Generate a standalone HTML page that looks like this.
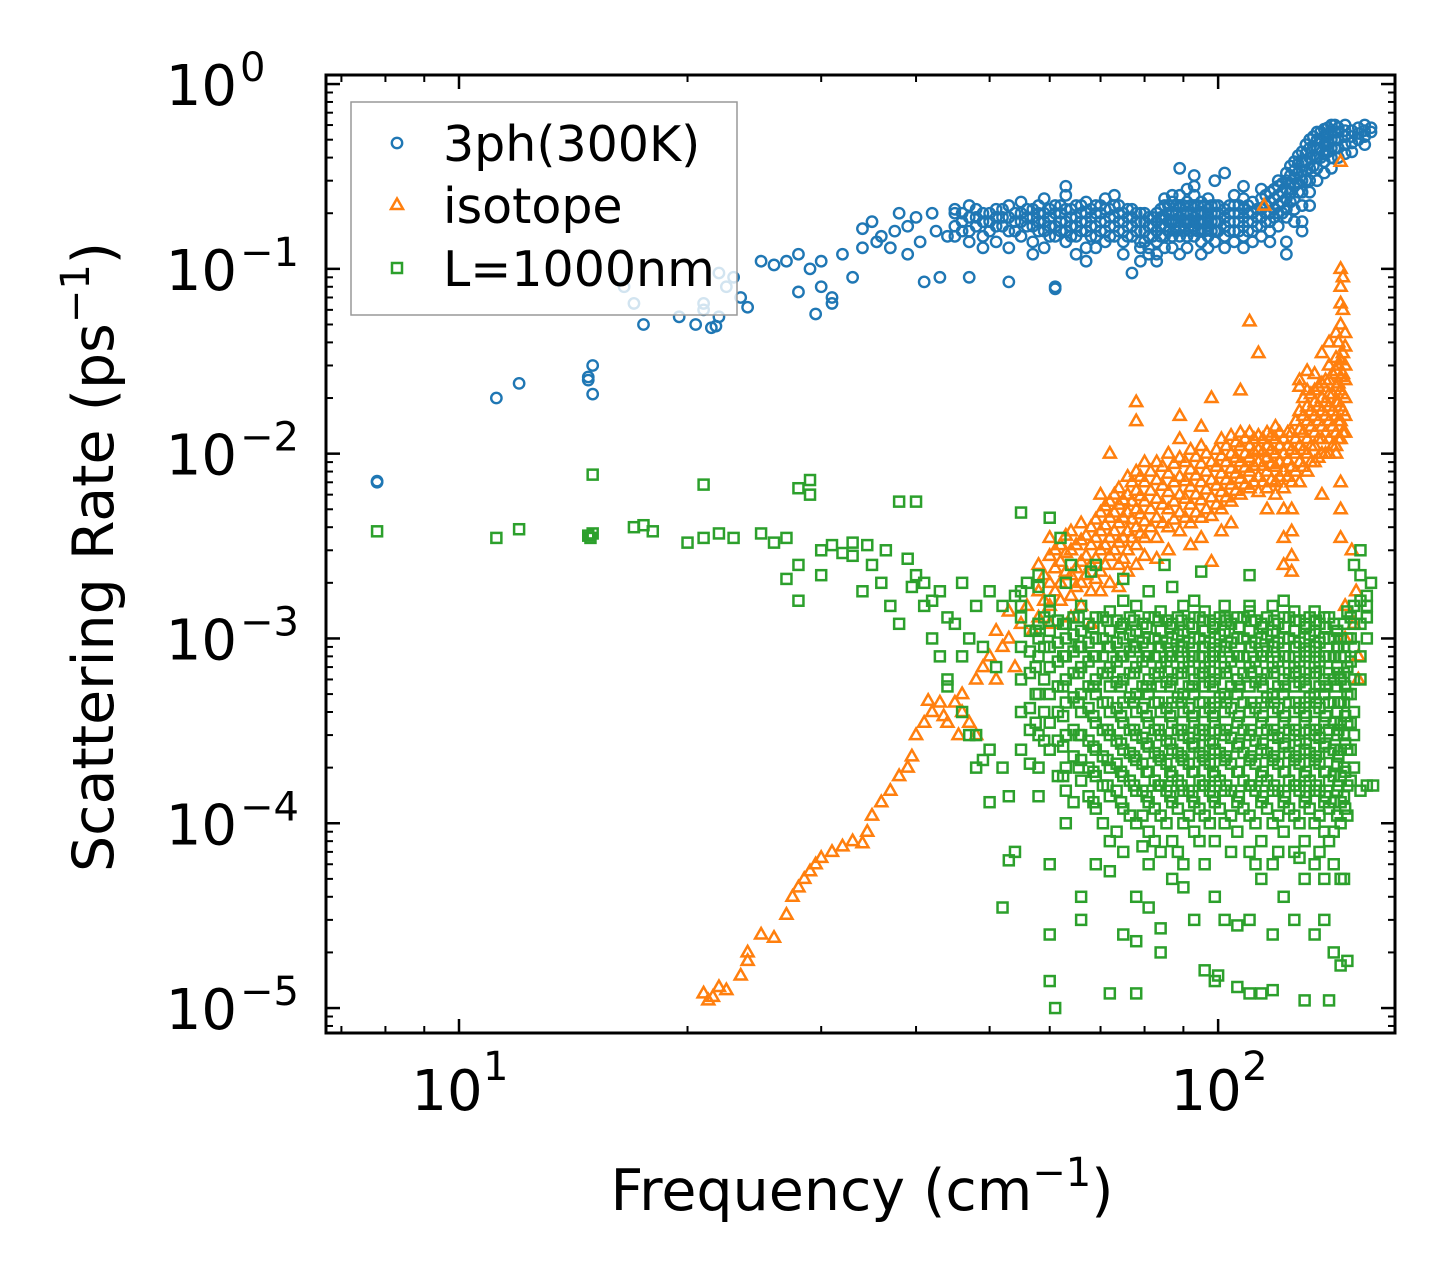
<!DOCTYPE html>
<html><head><meta charset="utf-8"><style>
html,body{margin:0;padding:0;background:#fff;}
svg{display:block;font-family:"DejaVu Sans","Liberation Sans",sans-serif;}
</style></head><body>
<svg id="chart" width="1455" height="1283" viewBox="0 0 1455 1283" xmlns="http://www.w3.org/2000/svg">
<rect width="1455" height="1283" fill="#fff"/>
<g id="marks"></g>
<g id="axes"></g>
<g id="legend"></g>
</svg>
<script>
// ---- data ----
const xTickValues = [10, 100];
const xTickLabels = ["10", "10"];
const xTickExps = ["1", "2"];
const yTickValues = [1, 0.1, 0.01, 0.001, 0.0001, 0.00001];
const yTickExps = ["0", "\u22121", "\u22122", "\u22123", "\u22124", "\u22125"];

const blueSingles = [[7.8,0.007],[7.8,0.0071],[11.2,0.02],[12,0.024],[14.8,0.025],[14.8,0.026],[15,0.03],[15,0.021],
[16.5,0.08],[17,0.065],[17.5,0.05],[19.5,0.055],[20.5,0.05],[21,0.06],[21.5,0.048],[22,0.055],[22,0.095],[23,0.09],[23.5,0.07],[24,0.062],[22.5,0.08],[21,0.065],[21.8,0.049],
[25,0.11],[26,0.105],[27,0.11],[28,0.12],[28,0.075],[29,0.1],[29.5,0.057],[30,0.08],[30,0.11],[31,0.065],[31,0.07],[32,0.12],[33,0.09],[34,0.13],[34,0.165],[35,0.18],[36,0.15],[37,0.13],[38,0.2],[39,0.17],[40,0.19],[41,0.085],[42,0.2],[43,0.09],[44,0.15],[35.5,0.14],[37.5,0.16],[39,0.12],[40.5,0.14],[42.5,0.16]];
const blueCols = [[45,[0.17,0.2,0.15,0.21]],[47,[0.16,0.19,0.22,0.14,0.09]],[49,[0.18,0.2,0.15,0.13]],[51,[0.17,0.21,0.19,0.14]],[53,[0.16,0.19,0.22,0.13,0.085]],[55,[0.18,0.2,0.15,0.23]],[57,[0.17,0.19,0.21,0.14,0.12]],[59,[0.16,0.18,0.2,0.24,0.13]],[61,[0.17,0.2,0.22,0.15,0.08,0.078]],[63,[0.18,0.21,0.16,0.14,0.25,0.28]],[65,[0.17,0.19,0.22,0.15,0.12]],[67,[0.16,0.18,0.2,0.23,0.13,0.11]],[69,[0.17,0.2,0.22,0.15,0.13]],[71,[0.18,0.21,0.16,0.14,0.24]],[73,[0.17,0.19,0.22,0.15,0.25]],[75,[0.16,0.18,0.2,0.14,0.12]],[77,[0.17,0.19,0.21,0.15,0.095]],[79,[0.16,0.18,0.2,0.14,0.13,0.11]],[81,[0.15,0.17,0.19,0.13,0.12]],[83,[0.16,0.18,0.2,0.14,0.11,0.12]],[85,[0.17,0.19,0.22,0.15,0.13,0.24]],[87,[0.18,0.2,0.23,0.15,0.13,0.25]],[89,[0.17,0.19,0.22,0.25,0.15,0.12,0.35]],[91,[0.18,0.2,0.23,0.27,0.15,0.13]],[93,[0.17,0.19,0.22,0.25,0.15,0.28,0.32]],[95,[0.18,0.2,0.23,0.16,0.14,0.12]],[97,[0.17,0.19,0.21,0.24,0.15,0.13]],[99,[0.18,0.2,0.22,0.16,0.14,0.3]],[102,[0.17,0.19,0.21,0.15,0.13,0.33]],[105,[0.18,0.2,0.22,0.16,0.14,0.25]],[108,[0.17,0.19,0.21,0.24,0.15,0.13,0.28]],[111,[0.18,0.2,0.23,0.16,0.14,0.2]],[114,[0.19,0.21,0.24,0.17,0.15,0.27]],[117,[0.2,0.23,0.26,0.18,0.16,0.14]],[120,[0.22,0.25,0.28,0.3,0.2,0.17]],[123,[0.24,0.27,0.3,0.33,0.21,0.19,0.14,0.12]],[126,[0.28,0.31,0.34,0.38,0.24,0.21,0.18]],[129,[0.3,0.34,0.38,0.43,0.26,0.22,0.18,0.16]],[132,[0.35,0.4,0.45,0.5,0.3,0.26,0.22]],[135,[0.4,0.45,0.5,0.55,0.35,0.3]],[138,[0.42,0.47,0.52,0.57,0.38,0.33]],[141,[0.45,0.5,0.55,0.6,0.4,0.35]],[144,[0.45,0.5,0.55,0.58,0.4]],[147,[0.47,0.52,0.56,0.6,0.42]],[150,[0.48,0.52,0.56,0.43]],[153,[0.5,0.54,0.58]],[156,[0.52,0.56,0.6,0.47]],[159,[0.55,0.58]]];
const blueCols2 = [[46,[0.16,0.18,0.2]],[48,[0.17,0.19,0.21]],[50,[0.16,0.18,0.2]],[52,[0.17,0.19,0.21]],[54,[0.16,0.18,0.2]],[56,[0.17,0.19,0.21]],[58,[0.16,0.18,0.2,0.22]],[60,[0.15,0.17,0.19,0.21]],[62,[0.16,0.18,0.2,0.22]],[64,[0.15,0.17,0.19,0.21]],[66,[0.16,0.18,0.2,0.22]],[68,[0.15,0.17,0.19,0.21]],[70,[0.16,0.18,0.2,0.22]],[72,[0.15,0.17,0.19,0.21]],[74,[0.16,0.18,0.2,0.22]],[76,[0.15,0.17,0.19,0.21]],[78,[0.16,0.18,0.2]],[80,[0.14,0.16,0.18,0.2]],[82,[0.15,0.17,0.19]],[84,[0.15,0.17,0.19,0.21]],[86,[0.16,0.18,0.2,0.22]],[88,[0.16,0.18,0.2,0.22]],[90,[0.16,0.18,0.2,0.22]],[92,[0.16,0.18,0.2,0.22]],[94,[0.16,0.18,0.2,0.22]],[96,[0.16,0.18,0.2,0.22]],[98,[0.16,0.18,0.2,0.22]],[100,[0.16,0.18,0.2,0.22]],[103.5,[0.16,0.18,0.2,0.22]],[106.5,[0.16,0.18,0.2,0.22]],[109.5,[0.16,0.18,0.2,0.22]],[112.5,[0.17,0.19,0.21]],[115.5,[0.18,0.2,0.22,0.25]],[118.5,[0.19,0.21,0.24,0.27]],[121.5,[0.2,0.23,0.26,0.29]],[124.5,[0.23,0.26,0.29,0.32,0.36]],[127.5,[0.26,0.29,0.33,0.37,0.41]],[130.5,[0.3,0.34,0.38,0.42,0.47]],[133.5,[0.36,0.41,0.46,0.52]],[136.5,[0.4,0.45,0.5,0.55]],[139.5,[0.43,0.48,0.53,0.58]],[142.5,[0.45,0.5,0.55,0.6]]];

const orangeSingles = [[21,1.2e-5],[21.3,1.1e-5],[21.6,1.15e-5],[22,1.3e-5],[22.5,1.25e-5],[23.5,1.5e-5],[24,1.8e-5],[24,2e-5],[25,2.5e-5],[26,2.4e-5],[27,3.2e-5],[27.5,4e-5],[28,4.5e-5],[28.5,5e-5],[29,5.5e-5],[29.5,6e-5],[30,6.5e-5],[31,7e-5],[32,7.5e-5],[33,8e-5],[34,7.8e-5],[34.5,9e-5],[35,1.1e-4],[36,1.3e-4],[37,1.5e-4],[38,1.8e-4],[39,2e-4],[39.5,2.3e-4],[40,3e-4],[41,3.5e-4],[42,4e-4],[43,4.5e-4],[44,3.5e-4],[45,4.5e-4],[46,4e-4],[46,5e-4],[47,3.5e-4],[48,3e-4],[48,6e-4],[49,7e-4],[50,8e-4],[51,6e-4],[52,9e-4],[53,1e-3],[54,7e-4],[55,1.2e-3],[56,1.5e-3],[57,1.1e-3],[51,1.1e-3],[53,1.4e-3],[41.5,4.6e-4],[43.5,3.8e-4],[45.5,3e-4],
[150,3e-3],[152,1.8e-3],[153,8e-4],[153,6e-4],[151,1.2e-3],[145,0.38],[115,0.22]];
const orangeCols = [[58,[1.8e-3,2.5e-3,1.3e-3]],[60,[1.5e-3,2e-3,2.8e-3,3.5e-3,1.2e-3]],[62,[2e-3,2.6e-3,3.2e-3,1.6e-3]],[64,[2.2e-3,3e-3,3.8e-3,1.7e-3,1.3e-3]],[66,[2e-3,2.6e-3,3.4e-3,4.2e-3,1.5e-3]],[68,[2.5e-3,3.2e-3,4e-3,1.8e-3,1.2e-3]],[70,[2.3e-3,3e-3,3.8e-3,4.8e-3,6e-3,1.8e-3]],[72,[2.8e-3,3.5e-3,4.5e-3,5.5e-3,2e-3,1e-2]],[74,[2.5e-3,3.3e-3,4.2e-3,5.3e-3,6.5e-3,1.9e-3]],[76,[3e-3,3.8e-3,4.8e-3,6e-3,2.3e-3,7.5e-3]],[78,[3.2e-3,4e-3,5e-3,6.3e-3,8e-3,2.5e-3,1.9e-2,1.5e-2]],[80,[3.5e-3,4.3e-3,5.5e-3,7e-3,2.8e-3,9e-3]],[83,[3.5e-3,4.5e-3,5.7e-3,7.2e-3,9e-3,2.7e-3]],[86,[4e-3,5e-3,6.2e-3,7.8e-3,1e-2,3e-3]],[89,[3.8e-3,4.8e-3,6e-3,7.5e-3,9.5e-3,1.2e-2,1.6e-2]],[92,[4.2e-3,5.3e-3,6.6e-3,8.2e-3,1.05e-2,3.2e-3]],[95,[4.5e-3,5.6e-3,7e-3,8.8e-3,1.1e-2,3.5e-3,1.4e-2]],[98,[4.6e-3,5.8e-3,7.2e-3,9e-3,2.6e-3,2e-2]],[101,[5e-3,6.2e-3,7.8e-3,9.7e-3,1.2e-2,3.8e-3]],[104,[5.5e-3,6.8e-3,8.3e-3,1e-2,1.25e-2,4.2e-3]],[107,[6e-3,7.3e-3,9e-3,1.1e-2,1.3e-2,2.2e-2]],[110,[6.5e-3,8e-3,9.5e-3,1.1e-2,1.3e-2,5.2e-2]],[113,[6.2e-3,7.5e-3,9e-3,1.05e-2,1.25e-2,3.5e-2]],[116,[6.5e-3,8e-3,9.5e-3,1.1e-2,1.3e-2,5e-3]],[119,[7e-3,8.5e-3,1e-2,1.2e-2,1.4e-2,6e-3]],[122,[6.5e-3,8e-3,1e-2,1.2e-2,5e-3,3.5e-3,2.5e-3]],[125,[5e-3,7e-3,8.5e-3,1.05e-2,1.3e-2,2.8e-3,3.8e-3,2.3e-3]],[128,[7e-3,9e-3,1.1e-2,1.35e-2,1.7e-2,2.3e-2,2.5e-2]],[131,[8e-3,1e-2,1.2e-2,1.5e-2,1.8e-2,2.2e-2,2.8e-2]],[134,[9e-3,1.1e-2,1.3e-2,1.6e-2,1.9e-2,2.2e-2,2.7e-2]],[137,[1e-2,1.2e-2,1.4e-2,1.7e-2,2e-2,2.4e-2,3.5e-2,6e-3]],[140,[1e-2,1.2e-2,1.5e-2,1.8e-2,2.1e-2,2.5e-2,3e-2,4e-2]],[143,[1.1e-2,1.3e-2,1.6e-2,1.9e-2,2.3e-2,2.8e-2,3.3e-2,4.5e-2,1e-2]],[145,[1.2e-2,1.5e-2,1.8e-2,2.2e-2,2.6e-2,3.2e-2,5e-2,6.5e-2,8e-2,1e-1,7e-3,5e-3,3.5e-3]],[147,[1.3e-2,1.6e-2,2e-2,2.5e-2,3e-2,3.8e-2,4.5e-2,1.5e-3,1e-3]]];
const orangeCols2 = [[59,[2.2e-3,1.6e-3]],[61,[1.8e-3,2.4e-3,3e-3]],[63,[2.3e-3,2.9e-3,3.6e-3]],[65,[2.4e-3,3.2e-3,1.9e-3]],[67,[2.8e-3,3.6e-3,2.2e-3]],[69,[2.7e-3,3.5e-3,4.4e-3,2.1e-3]],[71,[3.2e-3,4.1e-3,2.5e-3,5.2e-3]],[73,[3e-3,3.8e-3,4.8e-3,6e-3]],[75,[3.5e-3,4.5e-3,5.6e-3,2.7e-3]],[77,[3.5e-3,4.4e-3,5.5e-3,7e-3]],[79,[3.7e-3,4.7e-3,5.9e-3,7.5e-3]],[81.5,[4e-3,5e-3,6.3e-3,8e-3]],[84.5,[4.2e-3,5.3e-3,6.7e-3,8.5e-3]],[87.5,[4.4e-3,5.5e-3,7e-3,8.8e-3]],[90.5,[4.5e-3,5.7e-3,7.1e-3,9e-3]],[93.5,[4.8e-3,6e-3,7.6e-3,9.6e-3]],[96.5,[5e-3,6.4e-3,8e-3,1e-2]],[99.5,[5.3e-3,6.7e-3,8.5e-3,1.05e-2]],[102.5,[5.8e-3,7.2e-3,9e-3,1.1e-2]],[105.5,[6.3e-3,7.8e-3,9.5e-3,1.15e-2]],[108.5,[6.8e-3,8.4e-3,1e-2,1.2e-2]],[111.5,[7e-3,8.6e-3,1.02e-2,1.2e-2]],[114.5,[7e-3,8.6e-3,1.02e-2,1.2e-2]],[117.5,[7.2e-3,8.8e-3,1.05e-2,1.25e-2]],[120.5,[7.5e-3,9e-3,1.1e-2,1.3e-2]],[123.5,[7.5e-3,9.2e-3,1.1e-2,1.3e-2]],[126.5,[8e-3,1e-2,1.2e-2,1.5e-2]],[129.5,[8.5e-3,1.05e-2,1.3e-2,1.6e-2,2e-2]],[132.5,[9e-3,1.1e-2,1.4e-2,1.7e-2,2.1e-2]],[135.5,[9.5e-3,1.2e-2,1.5e-2,1.8e-2,2.3e-2]],[138.5,[1e-2,1.3e-2,1.6e-2,1.9e-2,2.5e-2]],[141.5,[1.1e-2,1.4e-2,1.7e-2,2.1e-2,2.7e-2]],[144,[1.2e-2,1.5e-2,1.9e-2,2.4e-2,3e-2,4e-2]],[146,[1.3e-2,1.7e-2,2.1e-2,2.7e-2,3.5e-2,6e-2,9e-2]]];

const greenSingles = [[7.8,3.8e-3],[11.2,3.5e-3],[12,3.9e-3],[14.8,3.6e-3],[14.9,3.5e-3],[15,3.7e-3],[15,7.7e-3],[17,4e-3],[17.5,4.1e-3],[18,3.8e-3],[20,3.3e-3],[21,6.8e-3],[21,3.5e-3],[22,3.7e-3],[23,3.5e-3],[25,3.7e-3],[26,3.3e-3],[27,3.5e-3],[27,2.1e-3],[28,2.5e-3],[28,1.6e-3],[28,6.5e-3],[29,6e-3],[29,7.2e-3],[30,3e-3],[30,2.2e-3],[31,3.2e-3],[32,2.9e-3],[33,3.3e-3],[33,2.8e-3],[34,1.8e-3],[35,2.5e-3],[36,2e-3],[37,1.5e-3],[38,1.2e-3],[38,5.5e-3],[39,2.7e-3],[40,2.2e-3],[40,5.5e-3],[41,1.5e-3],[42,1e-3],[43,1.8e-3],[44,6e-4],[45,1.2e-3],[46,8e-4],[47,3e-4],[48,2e-4],[49,2.2e-4],[50,1.3e-4],[53,6.3e-5],[54,7e-5],[55,4.8e-3],[52,3.5e-5],[36.5,3e-3],[34.5,3.2e-3],[39.5,1.9e-3],[41,2e-3],
[42,1.6e-3],[44,1.3e-3],[46,2e-3],[48,1.5e-3],[50,1.8e-3],[52,1.5e-3],[54,1.7e-3],[56,2e-3],[58,2.2e-3],[60,4.5e-3],[62,3.5e-3],[64,2.5e-3],[68,2.3e-3],[75,2.1e-3],[85,2.5e-3],[95,2.3e-3],[110,2.2e-3],[53,1.4e-4],[44,5.5e-4],[46,4e-4],[48,3e-4],[50,2.5e-4],[52,2e-4],[47,1e-3],[49,9e-4],[51,7e-4],[43,8e-4],
[60,1.4e-5],[61,1e-5],[100,1.5e-5],[110,1.2e-5],[140,1.1e-5],[118,1.25e-5],[160,1.6e-4],[157,1.5e-3],[159,2e-3]];
const greenCols = [[55,[1.3e-3,9e-4,6e-4,4e-4,2.5e-4,1.5e-3,1.8e-3]],[58,[1.2e-3,1e-3,8e-4,5e-4,3e-4,2e-4,1.9e-3,1.4e-4]],[60,[1.4e-3,1.1e-3,9e-4,7e-4,5e-4,3.5e-4,2.5e-4,1.6e-3,6e-5,2.5e-5]],[63,[1.2e-3,1e-3,8e-4,6e-4,4.5e-4,3e-4,2e-4,1.5e-4,2e-3,1e-4]],[66,[1.5e-3,1.1e-3,9e-4,7e-4,5e-4,4e-4,3e-4,2.2e-4,1.7e-4,4e-5,3e-5]],[69,[1.3e-3,1e-3,8e-4,6e-4,5e-4,3.5e-4,2.5e-4,1.8e-4,1.2e-4,6e-5,2.5e-3]],[72,[1.4e-3,1.1e-3,9e-4,7e-4,5.5e-4,4e-4,3e-4,2e-4,1.4e-4,8e-5,5.5e-5,1.2e-5]],[75,[1.2e-3,1e-3,8e-4,6e-4,4.5e-4,3.5e-4,2.5e-4,1.8e-4,1.2e-4,7e-5,2.5e-5,1.6e-3]],[78,[1.5e-3,1.1e-3,9e-4,7e-4,5e-4,4e-4,3e-4,2.2e-4,1.5e-4,1e-4,4e-5,2.3e-5,1.2e-5]],[81,[1.3e-3,1e-3,8e-4,6e-4,5e-4,3.5e-4,2.6e-4,1.9e-4,1.3e-4,9e-5,6e-5,3.5e-5,1.8e-3]],[84,[1.4e-3,1.1e-3,9e-4,7e-4,5.5e-4,4e-4,3e-4,2.2e-4,1.6e-4,1.1e-4,7e-5,2.7e-5,2e-5]],[87,[1.2e-3,1e-3,8e-4,6e-4,4.5e-4,3.5e-4,2.5e-4,1.8e-4,1.3e-4,8e-5,5e-5,1.9e-3]],[90,[1.5e-3,1.1e-3,9e-4,7e-4,5e-4,4e-4,3e-4,2.2e-4,1.5e-4,1e-4,6e-5,4.5e-5]],[93,[1.3e-3,1e-3,8e-4,6e-4,5e-4,3.5e-4,2.6e-4,1.9e-4,1.3e-4,9e-5,3e-5,1.6e-3]],[96,[1.4e-3,1.1e-3,9e-4,7e-4,5.5e-4,4e-4,3e-4,2.2e-4,1.6e-4,1.1e-4,6e-5,1.6e-5]],[99,[1.2e-3,1e-3,8e-4,6e-4,4.5e-4,3.5e-4,2.5e-4,1.8e-4,1.3e-4,8e-5,4e-5,1.4e-5]],[102,[1.5e-3,1.1e-3,9e-4,7e-4,5e-4,4e-4,3e-4,2.2e-4,1.5e-4,1e-4,3e-5,1.3e-3]],[106,[1.3e-3,1e-3,8e-4,6e-4,5e-4,3.5e-4,2.6e-4,1.9e-4,1.3e-4,9e-5,2.8e-5,1.3e-5]],[110,[1.4e-3,1.1e-3,9e-4,7e-4,5.5e-4,4e-4,3e-4,2.2e-4,1.6e-4,1.1e-4,7e-5,3e-5,1.5e-3]],[114,[1.2e-3,1e-3,8e-4,6e-4,4.5e-4,3.5e-4,2.5e-4,1.8e-4,1.3e-4,8e-5,5e-5,1.2e-5]],[118,[1.5e-3,1.1e-3,9e-4,7e-4,5e-4,4e-4,3e-4,2.2e-4,1.5e-4,1e-4,6e-5,2.5e-5]],[122,[1.3e-3,1e-3,8e-4,6e-4,5e-4,3.5e-4,2.6e-4,1.9e-4,1.3e-4,9e-5,4e-5,1.6e-3]],[126,[1.4e-3,1.1e-3,9e-4,7e-4,5.5e-4,4e-4,3e-4,2.2e-4,1.6e-4,1.1e-4,7e-5,3e-5]],[130,[1.2e-3,1e-3,8e-4,6e-4,4.5e-4,3.5e-4,2.5e-4,1.8e-4,1.3e-4,8e-5,5e-5,1.1e-5]],[134,[1.4e-3,1.1e-3,9e-4,7e-4,5e-4,4e-4,3e-4,2.2e-4,1.5e-4,1e-4,6e-5,2.5e-5]],[138,[1.3e-3,1e-3,8e-4,6e-4,5e-4,3.5e-4,2.6e-4,1.9e-4,1.3e-4,9e-5,5e-5,3e-5]],[142,[1.2e-3,1e-3,8e-4,6e-4,4.5e-4,3.5e-4,2.5e-4,1.8e-4,1.3e-4,9e-5,6e-5,2e-5]],[145,[1e-3,8e-4,6e-4,4.5e-4,3.5e-4,2.5e-4,1.8e-4,1.3e-4,1e-4,5e-5,1.7e-5]],[148,[1.4e-3,1e-3,7e-4,5e-4,3.5e-4,2.5e-4,1.6e-4,1.1e-4,1.8e-5]],[151,[2.5e-3,1.5e-3,1.2e-3,9e-4,6e-4,4e-4,3e-4,2e-4]],[154,[3e-3,2.2e-3,1.6e-3,1.2e-3,8e-4,6e-4,1.5e-4]],[157,[1.7e-3,1.3e-3,1e-3,1.6e-4]],
[56.5,[1.1e-3,8.5e-4,6.5e-4,4.2e-4,3.2e-4,2.1e-4]],[61.5,[1.25e-3,9.5e-4,7.5e-4,5.5e-4,4e-4,2.8e-4,1.8e-4]],[64.5,[1.3e-3,1.05e-3,8.5e-4,6.5e-4,4.8e-4,3.2e-4,2.3e-4,1.3e-4]],[67.5,[1.2e-3,9.5e-4,7.5e-4,5.5e-4,4.2e-4,2.8e-4,2e-4,1.4e-4]],[70.5,[1.3e-3,1e-3,8e-4,6.5e-4,4.5e-4,3.2e-4,2.3e-4,1.6e-4,1e-4]],[73.5,[1.25e-3,9.5e-4,7.5e-4,5.8e-4,4.2e-4,2.8e-4,2.1e-4,1.5e-4,9e-5]],[76.5,[1.3e-3,1.05e-3,8.5e-4,6.5e-4,4.8e-4,3.2e-4,2.4e-4,1.7e-4,1.1e-4]],[79.5,[1.2e-3,9.5e-4,7.5e-4,5.5e-4,4.2e-4,2.9e-4,2.1e-4,1.5e-4,1.1e-4,7.5e-5]],[82.5,[1.3e-3,1e-3,8e-4,6.5e-4,4.5e-4,3.2e-4,2.4e-4,1.7e-4,1.2e-4,8e-5]],[85.5,[1.25e-3,9.5e-4,7.5e-4,5.8e-4,4.2e-4,2.8e-4,2.1e-4,1.5e-4,1e-4]],[88.5,[1.3e-3,1.05e-3,8.5e-4,6.5e-4,4.8e-4,3.2e-4,2.4e-4,1.7e-4,1.2e-4,7e-5]],[91.5,[1.2e-3,9.5e-4,7.5e-4,5.5e-4,4.2e-4,2.9e-4,2.1e-4,1.5e-4,1.1e-4]],[94.5,[1.3e-3,1e-3,8e-4,6.5e-4,4.5e-4,3.2e-4,2.4e-4,1.7e-4,1.2e-4,8e-5]],[97.5,[1.25e-3,9.5e-4,7.5e-4,5.8e-4,4.2e-4,2.8e-4,2.1e-4,1.5e-4,1e-4]],[100.5,[1.3e-3,1.05e-3,8.5e-4,6.5e-4,4.8e-4,3.2e-4,2.4e-4,1.7e-4,1.2e-4]],[104,[1.2e-3,9.5e-4,7.5e-4,5.5e-4,4.2e-4,2.9e-4,2.1e-4,1.5e-4,1.1e-4,7e-5]],[108,[1.3e-3,1e-3,8e-4,6.5e-4,4.5e-4,3.2e-4,2.4e-4,1.7e-4,1.2e-4]],[112,[1.25e-3,9.5e-4,7.5e-4,5.8e-4,4.2e-4,2.8e-4,2.1e-4,1.5e-4,1e-4,6e-5]],[116,[1.3e-3,1.05e-3,8.5e-4,6.5e-4,4.8e-4,3.2e-4,2.4e-4,1.7e-4,1.2e-4]],[120,[1.2e-3,9.5e-4,7.5e-4,5.5e-4,4.2e-4,2.9e-4,2.1e-4,1.5e-4,1.1e-4,7e-5]],[124,[1.3e-3,1e-3,8e-4,6.5e-4,4.5e-4,3.2e-4,2.4e-4,1.7e-4,1.2e-4]],[128,[1.25e-3,9.5e-4,7.5e-4,5.8e-4,4.2e-4,2.8e-4,2.1e-4,1.5e-4,1e-4,6.5e-5]],[132,[1.3e-3,1.05e-3,8.5e-4,6.5e-4,4.8e-4,3.2e-4,2.4e-4,1.7e-4,1.2e-4]],[136,[1.2e-3,9.5e-4,7.5e-4,5.5e-4,4.2e-4,2.9e-4,2.1e-4,1.5e-4,1.1e-4,7e-5]],[140,[1.3e-3,1e-3,8e-4,6.5e-4,4.5e-4,3.2e-4,2.4e-4,1.7e-4,1.2e-4,8e-5]],[143.5,[1.1e-3,9e-4,7e-4,5.5e-4,4e-4,3e-4,2.1e-4,1.5e-4,1.1e-4]],[146.5,[1.2e-3,9e-4,6.5e-4,4.5e-4,3e-4,2e-4,1.4e-4,5e-5]],[149.5,[1.3e-3,1e-3,7.5e-4,5e-4,3.5e-4,2.5e-4,1.7e-4]]];
const greenCols2 = [[57.5,[7e-4,5e-4,3.5e-4,1.1e-3]],[59,[9e-4,6e-4,4e-4,2.8e-4,1.3e-3]],[62.5,[8e-4,5.5e-4,3.8e-4,2.6e-4,1.2e-3,1.8e-4]],[65.5,[9e-4,6.5e-4,4.5e-4,3e-4,2e-4,1.3e-3]],[68.5,[8e-4,5.5e-4,3.8e-4,2.6e-4,1.9e-4,1.15e-3,1.3e-4]],[71.5,[9e-4,6.5e-4,4.5e-4,3.2e-4,2.2e-4,1.6e-4,1.25e-3]],[74.5,[8e-4,5.5e-4,3.8e-4,2.7e-4,1.9e-4,1.3e-4,1.15e-3]],[77.5,[9e-4,6.5e-4,4.5e-4,3.2e-4,2.3e-4,1.6e-4,1.25e-3]],[80.5,[8e-4,5.5e-4,3.8e-4,2.7e-4,1.9e-4,1.4e-4,1.15e-3]],[83.5,[9e-4,6.5e-4,4.5e-4,3.2e-4,2.3e-4,1.6e-4,1.25e-3]],[86.5,[8e-4,5.5e-4,3.8e-4,2.7e-4,1.9e-4,1.4e-4,1.15e-3]],[89.5,[9e-4,6.5e-4,4.5e-4,3.2e-4,2.3e-4,1.6e-4,1.25e-3]],[92.5,[8e-4,5.5e-4,3.8e-4,2.7e-4,1.9e-4,1.4e-4,1.15e-3]],[95.5,[9e-4,6.5e-4,4.5e-4,3.2e-4,2.3e-4,1.6e-4,1.25e-3]],[98.5,[8e-4,5.5e-4,3.8e-4,2.7e-4,1.9e-4,1.4e-4,1.15e-3]],[102.5,[9e-4,6.5e-4,4.5e-4,3.2e-4,2.3e-4,1.6e-4,1.25e-3]],[106.5,[8e-4,5.5e-4,3.8e-4,2.7e-4,1.9e-4,1.4e-4,1.15e-3]],[110.5,[9e-4,6.5e-4,4.5e-4,3.2e-4,2.3e-4,1.6e-4,1.25e-3]],[114.5,[8e-4,5.5e-4,3.8e-4,2.7e-4,1.9e-4,1.4e-4,1.15e-3]],[118.5,[9e-4,6.5e-4,4.5e-4,3.2e-4,2.3e-4,1.6e-4,1.25e-3]],[122.5,[8e-4,5.5e-4,3.8e-4,2.7e-4,1.9e-4,1.4e-4,1.15e-3]],[126.5,[9e-4,6.5e-4,4.5e-4,3.2e-4,2.3e-4,1.6e-4,1.25e-3]],[130.5,[8e-4,5.5e-4,3.8e-4,2.7e-4,1.9e-4,1.4e-4,1.15e-3]],[134.5,[9e-4,6.5e-4,4.5e-4,3.2e-4,2.3e-4,1.6e-4,1.25e-3]],[138.5,[8e-4,5.5e-4,3.8e-4,2.7e-4,1.9e-4,1.4e-4,1.15e-3]],[144,[9e-4,6.5e-4,4.5e-4,3.2e-4,2.3e-4,1.6e-4]],[147,[8e-4,5.5e-4,3.8e-4,2.7e-4,1.9e-4,1.2e-4]]];

// ---- axes ----
const PL=326, PR=1395, PT=75, PB=1033;
const xLogMin=0.8248, xLogMax=2.2330, yLogMin=-5.135, yLogMax=0.049;
function xs(v){return PL+(Math.log10(v)-xLogMin)/(xLogMax-xLogMin)*(PR-PL);}
function ys(v){return PB-(Math.log10(v)-yLogMin)/(yLogMax-yLogMin)*(PB-PT);}

const NS="http://www.w3.org/2000/svg";
function mk(tag,attrs,parent){const e=document.createElementNS(NS,tag);for(const k in attrs)e.setAttribute(k,attrs[k]);parent.appendChild(e);return e;}
const marks=document.getElementById('marks');
const axes=document.getElementById('axes');
const legend=document.getElementById('legend');

function expand(singles,cols,cols2){const out=singles.slice();cols.concat(cols2).forEach(c=>c[1].forEach(r=>out.push([c[0],r])));return out;}
const series=[
 {name:'3ph',pts:expand(blueSingles,blueCols,blueCols2),color:'#1f77b4',shape:'circle'},
 {name:'isotope',pts:expand(orangeSingles,orangeCols,orangeCols2),color:'#ff7f0e',shape:'triangle'},
 {name:'boundary',pts:expand(greenSingles,greenCols,greenCols2),color:'#2ca02c',shape:'square'}];

function drawMarker(g,shape,cx,cy,color){
  let el;
  if(shape==='circle') el=mk('circle',{cx:cx,cy:cy,r:5.2,fill:'none',stroke:color,'stroke-width':2.4},g);
  else if(shape==='square') el=mk('rect',{x:cx-5,y:cy-5,width:10,height:10,fill:'none',stroke:color,'stroke-width':2.5},g);
  else el=mk('polygon',{points:`${cx},${cy-6.5} ${cx+6},${cy+4} ${cx-6},${cy+4}`,fill:'none',stroke:color,'stroke-width':2.5},g);
  return el;
}
series.forEach(s=>{
  const g=mk('g',{},marks);
  
  
  s.pts.forEach(p=>{
    const el=drawMarker(g,s.shape,xs(p[0]),ys(p[1]),s.color);
    
    
  });
});

// frame
const frame=mk('rect',{x:PL,y:PT,width:PR-PL,height:PB-PT,fill:'none',stroke:'#000','stroke-width':3},axes);


const xMinorTicks=[7,8,9,20,30,40,50,60,70,80,90,200];
function tickLine(x1,y1,x2,y2,w){return mk('line',{x1:x1,y1:y1,x2:x2,y2:y2,stroke:'#000','stroke-width':w},axes);}
xTickValues.forEach((v,i)=>{
  const x=xs(v);
  tickLine(x,PB,x,PB-14,2.5);tickLine(x,PT,x,PT+14,2.5);
  const t=mk('text',{x:x-12,y:1110,'font-size':56,'text-anchor':'middle',fill:'#000'},axes);
  
  
  t.textContent=xTickLabels[i];
  const s=mk('text',{x:x+24,y:1080,'font-size':40,fill:'#000'},axes);
  s.textContent=xTickExps[i];
});
xMinorTicks.forEach(v=>{const x=xs(v);if(x>PL&&x<PR){tickLine(x,PB,x,PB-7,2);tickLine(x,PT,x,PT+7,2);}});
yTickValues.forEach((v,i)=>{
  const y=ys(v);
  tickLine(PL,y,PL+14,y,2.5);tickLine(PR,y,PR-14,y,2.5);
  const t=mk('text',{x:237,y:y+21,'font-size':56,'text-anchor':'end',fill:'#000'},axes);
  
  
  t.textContent='10';
  const s=mk('text',{x:240,y:y-3,'font-size':40,fill:'#000'},axes);
  s.textContent=yTickExps[i];
  for(let m=2;m<=9;m++){const yy=ys(v*m/10);if(yy>PT&&yy<PB){tickLine(PL,yy,PL+7,yy,2);tickLine(PR,yy,PR-7,yy,2);}}
  for(let m=2;m<=9;m++){const yy=ys(v*m);if(i===0&&yy>PT&&yy<PB){tickLine(PL,yy,PL+7,yy,2);tickLine(PR,yy,PR-7,yy,2);}}
});
const xt=mk('text',{x:862,y:1210,'font-size':57,'text-anchor':'middle',fill:'#000'},axes);


xt.innerHTML='Frequency (cm<tspan font-size="40" dy="-24">\u22121</tspan><tspan dy="24">)</tspan>';
const yt=mk('text',{x:0,y:0,'font-size':57,'text-anchor':'middle',fill:'#000',transform:'translate(113,557) rotate(-90)'},axes);


yt.innerHTML='Scattering Rate (ps<tspan font-size="40" dy="-24">\u22121</tspan><tspan dy="24">)</tspan>';

// legend
const lb=mk('rect',{x:351,y:102,width:386,height:213,fill:'#fff','fill-opacity':0.8,stroke:'#999','stroke-width':1.5},legend);


const legendLabels=['3ph(300K)','isotope','L=1000nm'];
const legendYs=[143,205,268];
series.forEach((s,i)=>{
  const m=drawMarker(legend,s.shape,397,legendYs[i],s.color);
  
  
  const t=mk('text',{x:443,y:legendYs[i]+18,'font-size':49,fill:'#000'},legend);
  
  
  t.textContent=legendLabels[i];
});
</script>
</body></html>
